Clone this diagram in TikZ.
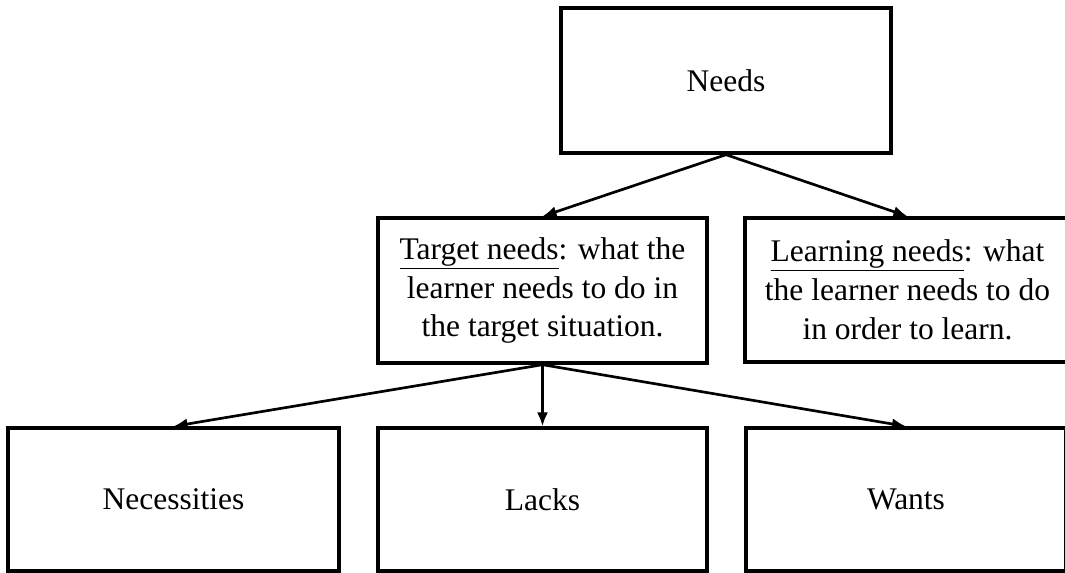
\documentclass[tikz,border=0pt]{standalone}
\usepackage{fontspec}
\setmainfont{Liberation Serif}
\usetikzlibrary{arrows.meta}

\begin{document}
\begin{tikzpicture}[x=0.025cm, y=-0.025cm,
  box/.style={draw, line width=2.4pt, align=center, inner sep=0pt,
    font=\fontsize{22.4}{27.6}\selectfont},
  link/.style={line width=1.9pt, >={Latex[length=10pt,width=8pt]}, ->}]

\useasboundingbox (0,0) rectangle (1065,572);

\node[box, minimum width=330*0.025cm, minimum height=145*0.025cm] (needs) at (726,80.5) {Needs};

\node[box, minimum width=329*0.025cm, minimum height=145*0.025cm] (target) at (542.5,290.5)
  {\underline{Target needs}: what the\\learner needs to do in\\the target situation.};
\node[box, minimum width=325*0.025cm, minimum height=144*0.025cm] (learning) at (907.5,290)
  {\underline{Learning needs}: what\\the learner needs to do\\in order to learn.};

\node[box, minimum width=331*0.025cm, minimum height=143*0.025cm] (necessities) at (173.5,499.5) {Necessities};
\node[box, minimum width=329*0.025cm, minimum height=143*0.025cm] (lacks) at (542.5,499.5) {Lacks};
\node[box, minimum width=320*0.025cm, minimum height=143*0.025cm] (wants) at (906,499.5) {Wants};

\draw [link] (needs.south) -- (target.north);
\draw [link] (needs.south) -- (learning.north);

\draw [link] (target.south) -- (necessities.north);
\draw [link] (target.south) -- (lacks.north);
\draw [link] (target.south) -- (wants.north);
\end{tikzpicture}
\end{document}
